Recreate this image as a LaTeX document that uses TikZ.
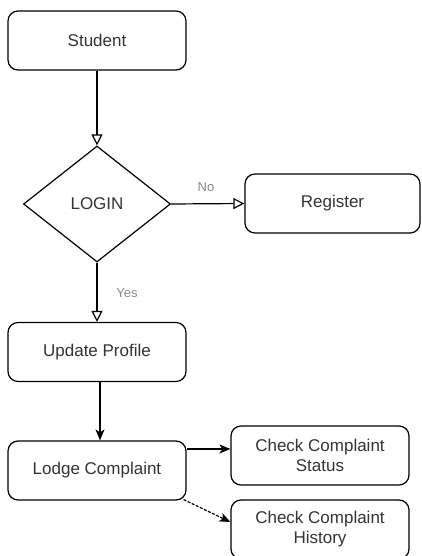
\documentclass[tikz,border=0pt]{standalone}
\usepackage{fontspec}
\setmainfont{Liberation Sans}
\usetikzlibrary{arrows.meta,shapes.geometric}
\definecolor{txt}{HTML}{333333}
\definecolor{lbl}{HTML}{888888}
\tikzset{
  box/.style={draw=black, line width=1.2pt, rounded corners=10pt, minimum width=178pt, minimum height=59pt, inner sep=0pt, align=center, text=txt, font=\fontsize{17}{20}\selectfont},
  dec/.style={draw=black, line width=1.2pt, diamond, aspect=1.267, minimum width=147pt, minimum height=116pt, inner sep=0pt, text=txt, font=\fontsize{17}{20}\selectfont},
  openarr/.style={draw=black, line width=1.2pt, -{Triangle[open, length=11pt, width=11pt]}},
  fillarr/.style={draw=black, line width=1.2pt, -{Stealth[length=11pt, width=9pt, inset=3pt]}},
  lab/.style={text=lbl, font=\fontsize{13}{15}\selectfont},
}
\begin{document}
\begin{tikzpicture}[x=1pt,y=-1pt]
\useasboundingbox (0,0) rectangle (421,556);
\clip (0,0) rectangle (421,556);
\node[box] (student) at (97,40.5) {Student};
\node[dec] (login) at (97,204) {LOGIN};
\node[box, minimum width=175pt] (register) at (332.5,203.5) {Register};
\node[box] (update) at (97,352) {Update Profile};
\node[box] (lodge) at (97,470.5) {Lodge Complaint};
\node[box] (status) at (320,455.5) {Check Complaint\\Status};
\node[box] (history) at (320,529.5) {Check Complaint\\History};
\draw[openarr] (student.south) -- (login.north);
\draw[openarr] (login.east) -- (register.west);
\draw[openarr] (login.south) -- (update.north);
\node[lab] (no) at (206,187) {No};
\node[lab] (yes) at (127,293) {Yes};
\draw[fillarr] (update.south -| 100,0) -- (lodge.north -| 100,0);
\draw[fillarr] (lodge.east |- 0,449) -- (status.west |- 0,449);
\coordinate (ls) at ([shift={(-3,-1)}]lodge.south east);
\draw[fillarr, dash pattern=on 3pt off 1.5pt] (ls) -- (history.west |- 0,522);
\end{tikzpicture}
\end{document}
